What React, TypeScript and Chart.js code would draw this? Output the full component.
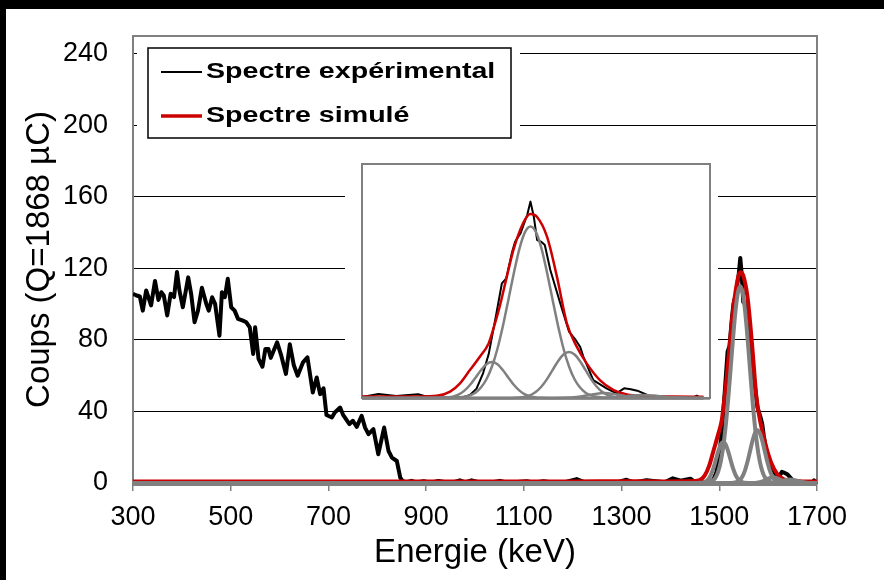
import React, { useEffect, useRef } from 'react';
import { Chart, registerables } from 'chart.js';

Chart.register(...registerables);

// ---------- data ----------
const xTickValues = [300, 500, 700, 900, 1100, 1300, 1500, 1700];
const yTickValues = [0, 40, 80, 120, 160, 200, 240];

const xTitle = 'Energie (keV)';
const yTitle = 'Coups (Q=1868 µC)';
const legendLabels = ['Spectre expérimental', 'Spectre simulé'];

const expEnergy = [300, 306, 314, 320, 327, 337, 345, 352, 358, 363, 370, 377, 384, 390, 395, 402, 413, 419, 426, 433, 441, 450, 455, 462, 468, 477, 482, 488, 494, 501, 508, 515, 525, 532, 539, 546, 550, 557, 565, 571, 577, 582, 595, 603, 613, 621, 629, 637, 648, 657, 668, 676, 683, 690, 696, 707, 713, 724, 730, 743, 750, 758, 768, 775, 782, 792, 802, 814, 823, 830, 840, 847, 852, 860, 870, 880, 895, 910, 925, 940, 955, 969, 980, 993, 1010, 1030, 1051, 1065, 1080, 1106, 1120, 1140, 1160, 1180, 1208, 1225, 1250, 1275, 1290, 1310, 1325, 1351, 1370, 1388, 1405, 1421, 1441, 1449, 1461, 1473, 1482, 1488, 1494, 1500, 1505, 1512, 1517, 1521, 1526, 1529, 1534, 1540, 1543, 1546, 1549, 1553, 1556, 1561, 1570, 1578, 1584, 1588, 1591, 1600, 1612, 1621, 1628, 1634, 1640, 1649, 1655, 1670, 1691, 1694, 1697, 1700];
const expCounts = [105.8, 105, 104.3, 96.4, 107.7, 99.3, 113, 102.4, 106.7, 104.9, 93.7, 105.8, 104, 118, 107.7, 98.3, 115, 105.8, 89.9, 96.4, 109.2, 100.2, 96.4, 103.9, 100.2, 82.4, 106.7, 103.9, 114.2, 98.3, 96.4, 91.8, 90.8, 89.9, 87.1, 72.2, 87.1, 69.4, 65, 75, 75, 70, 78.7, 71.7, 61, 77.6, 66, 60, 67.5, 70.3, 50.6, 59, 49.7, 53, 38, 36.6, 39.4, 42.2, 38.1, 32.9, 34.8, 31.4, 37.6, 31, 27.3, 30.1, 16.1, 31, 17.9, 14.2, 12.3, 3, 1, 0.5, 1.2, 0.3, 1.0, 0.2, 1.1, 0.4, 0.3, 1.5, 0.3, 1.5, 0.3, 0.2, 1.2, 0.3, 0.4, 1.0, 0.2, 1.0, 0.3, 0.2, 2.2, 0.3, 0.2, 0.3, 0.3, 1.8, 0.3, 1.6, 1.0, 0.4, 2.6, 1.3, 2.4, 0.8, 0.4, 0.4, 0.5, 2, 6, 16, 28, 54, 73.5, 76.7, 92.7, 100.2, 105.6, 117.3, 125.9, 116.2, 101.3, 100, 98.1, 82.1, 60.7, 42.5, 37.2, 32.9, 26.5, 11.5, 6.2, 3, 6.2, 5.6, 4.7, 1.9, 0.2, 0.4, 0.4, 1.5, 0.3, 0.5];

const simEnergy = [300, 600, 900, 1200, 1300, 1388, 1440, 1458, 1470, 1479, 1488, 1497, 1505, 1509, 1515, 1521.5, 1527.5, 1533.6, 1539.7, 1542.7, 1548.8, 1558, 1567, 1576, 1585, 1594, 1606, 1618.5, 1630.6, 1645.7, 1670, 1700];
const simCounts = [0.9, 0.9, 0.9, 0.9, 1.0, 0.9, 1.0, 1.4, 4.1, 9.4, 17.9, 26.5, 35, 43.6, 58.5, 77.8, 94.9, 107.7, 116.2, 117.9, 116.2, 103.4, 77.8, 47.9, 32.9, 22.2, 11.5, 5.1, 2.2, 1.2, 0.9, 0.8];

const comp1Energy = [300, 1455, 1463, 1468, 1473, 1478, 1483, 1488, 1493, 1498, 1503, 1508, 1513, 1518, 1523, 1528, 1533, 1538, 1543, 1548, 1553, 1560, 1700];
const comp1Counts = [0, 0, 0.1, 0.4, 1.0, 2.3, 4.7, 8.3, 13.0, 17.8, 21.6, 23, 21.6, 17.8, 13.0, 8.3, 4.7, 2.3, 1.0, 0.4, 0.1, 0, 0];

const comp2Energy = [300, 1465, 1473, 1478, 1483, 1488, 1493, 1498, 1503, 1508, 1513, 1518, 1523, 1528, 1533, 1538, 1543, 1548, 1553, 1558, 1563, 1568, 1573, 1578, 1583, 1588, 1593, 1598, 1603, 1608, 1613, 1620, 1700];
const comp2Counts = [0, 0, 0.1, 0.3, 0.75, 1.7, 3.4, 6.7, 12.0, 20.2, 31.6, 46.3, 63.2, 80.5, 95.8, 106.3, 110, 106.3, 95.8, 80.5, 63.2, 46.3, 31.6, 20.2, 12.0, 6.7, 3.4, 1.7, 0.75, 0.3, 0.1, 0, 0];

const comp3Energy = [300, 1525, 1533, 1538, 1543, 1548, 1553, 1558, 1563, 1568, 1573, 1578, 1583, 1588, 1593, 1598, 1603, 1608, 1613, 1618, 1623, 1630, 1700];
const comp3Counts = [0, 0, 0.3, 0.8, 1.9, 4.0, 7.4, 12.1, 17.9, 23.6, 27.9, 29.5, 27.9, 23.6, 17.9, 12.1, 7.4, 4.0, 1.9, 0.8, 0.3, 0, 0];

const comp4Energy = [300, 1565, 1580, 1590, 1600, 1610, 1620, 1630, 1640, 1655, 1700];
const comp4Counts = [0, 0, 0.3, 1.1, 2.4, 3.2, 2.4, 1.1, 0.3, 0, 0];

const comp5Energy = [300, 1600, 1615, 1625, 1635, 1645, 1655, 1665, 1675, 1690, 1700];
const comp5Counts = [0, 0, 0.3, 0.8, 1.6, 2.0, 1.6, 0.8, 0.3, 0, 0];

const componentEnergies = [comp1Energy, comp2Energy, comp3Energy, comp4Energy, comp5Energy];
const componentCounts = [comp1Counts, comp2Counts, comp3Counts, comp4Counts, comp5Counts];

// ---------- helpers ----------
const FONT = '"Liberation Sans", Arial, Helvetica, sans-serif';
const RED = '#cc0000';
const GRAY = '#808080';

const pts = (xs: number[], ys: number[]) => xs.map((x, i) => ({ x, y: ys[i] }));

function buildDatasets(w: { exp: number; sim: number; comp: number }) {
  const clip = { left: 0, top: 0, right: 3, bottom: 4 };
  const comps = componentEnergies.map((e, i) => ({
    data: pts(e, componentCounts[i]),
    borderColor: GRAY,
    borderWidth: w.comp,
    pointRadius: 0,
    fill: false,
    clip,
    cubicInterpolationMode: 'monotone' as const,
    order: 0,
  }));
  return [
    ...comps,
    {
      data: pts(simEnergy, simCounts),
      borderColor: RED,
      borderWidth: w.sim,
      pointRadius: 0,
      fill: false,
      clip,
      cubicInterpolationMode: 'monotone' as const,
      order: 1,
    },
    {
      data: pts(expEnergy, expCounts),
      borderColor: '#000',
      borderWidth: w.exp,
      pointRadius: 0,
      fill: false,
      clip,
      tension: 0,
      borderJoinStyle: 'round' as const,
      order: 2,
    },
  ];
}

const framePlugin = (color: string, width: number) => ({
  id: 'frame',
  beforeDatasetsDraw(chart: any) {
    const { ctx, chartArea: a } = chart;
    ctx.save();
    ctx.strokeStyle = color;
    ctx.lineWidth = width;
    ctx.strokeRect(a.left, a.top, a.right - a.left, a.bottom - a.top);
    ctx.restore();
  },
});

// thick grey base line (component baselines + axis) over the data, as in the original
const baseLinePlugin = (width: number, offset: number) => ({
  id: 'baseLine',
  afterDatasetsDraw(chart: any) {
    const { ctx, chartArea: a } = chart;
    ctx.save();
    ctx.strokeStyle = GRAY;
    ctx.lineWidth = width;
    ctx.beginPath();
    ctx.moveTo(a.left, a.bottom + offset);
    ctx.lineTo(a.right, a.bottom + offset);
    ctx.stroke();
    ctx.restore();
  },
});

const whiteBg = {
  id: 'whiteBg',
  beforeDraw(chart: any) {
    const { ctx, width, height } = chart;
    ctx.save();
    ctx.fillStyle = '#fff';
    ctx.fillRect(0, 0, width, height);
    ctx.restore();
  },
};

function drawStretched(ctx: CanvasRenderingContext2D, text: string, x: number, y: number, sx: number) {
  ctx.save();
  ctx.translate(x, y);
  ctx.scale(sx, 1);
  ctx.fillText(text, 0, 0);
  ctx.restore();
}

const legendPlugin = {
  id: 'legendBox',
  afterDraw(chart: any) {
    const ctx: CanvasRenderingContext2D = chart.ctx;
    ctx.save();
    ctx.fillStyle = '#fff';
    ctx.fillRect(131, 31, 383, 106);
    ctx.strokeStyle = '#000';
    ctx.lineWidth = 1.5;
    ctx.strokeRect(142, 39, 363, 90);
    ctx.beginPath();
    ctx.moveTo(155, 63);
    ctx.lineTo(196, 63);
    ctx.strokeStyle = '#000';
    ctx.lineWidth = 2;
    ctx.stroke();
    ctx.beginPath();
    ctx.moveTo(155, 107);
    ctx.lineTo(196, 107);
    ctx.strokeStyle = RED;
    ctx.lineWidth = 3.5;
    ctx.stroke();
    ctx.fillStyle = '#000';
    ctx.font = `bold 22px ${FONT}`;
    ctx.textBaseline = 'alphabetic';
    ctx.textAlign = 'left';
    drawStretched(ctx, legendLabels[0], 200, 69, 1.3);
    drawStretched(ctx, legendLabels[1], 200, 113, 1.3);
    ctx.restore();
  },
};

export default function App() {
  const mainRef = useRef<HTMLCanvasElement>(null);
  const insetRef = useRef<HTMLCanvasElement>(null);

  useEffect(() => {
    if (!mainRef.current || !insetRef.current) return;
    const main = new Chart(mainRef.current, {
      type: 'line',
      data: { datasets: buildDatasets({ exp: 4, sim: 4, comp: 4 }) as any },
      options: {
        animation: false,
        responsive: false,
        maintainAspectRatio: false,
        events: [],
        layout: { padding: { left: 0, top: 27, right: 67, bottom: 0 } },
        plugins: { legend: { display: false }, tooltip: { enabled: false } },
        scales: {
          x: {
            type: 'linear',
            min: 300,
            max: 1700,
            afterBuildTicks: (s: any) => {
              s.ticks = xTickValues.map((v) => ({ value: v }));
            },
            afterFit: (s: any) => {
              s.height = 97;
              s.paddingLeft = 0;
              s.paddingRight = 0;
            },
            ticks: {
              autoSkip: false,
              maxRotation: 0,
              color: '#000',
              padding: 10,
              font: { family: FONT, size: 27 },
              callback: (v: any) => String(v),
            },
            grid: { drawOnChartArea: false, drawTicks: true, tickLength: 8, color: GRAY, lineWidth: 1.5 },
            border: { display: true, color: GRAY, width: 2 },
            title: {
              display: true,
              text: xTitle,
              color: '#000',
              font: { family: FONT, size: 33 },
              padding: { top: 0, bottom: 7 },
            },
          },
          y: {
            type: 'linear',
            min: 0,
            max: 250,
            afterBuildTicks: (s: any) => {
              s.ticks = yTickValues.map((v) => ({ value: v }));
            },
            afterFit: (s: any) => {
              s.width = 127;
              s.paddingTop = 0;
              s.paddingBottom = 0;
            },
            ticks: {
              color: '#000',
              padding: 25,
              font: { family: FONT, size: 27 },
              callback: (v: any) => String(v),
            },
            grid: {
              drawTicks: false,
              color: (c: any) => (c.tick && c.tick.value === 0 ? 'rgba(0,0,0,0)' : '#000'),
              lineWidth: 1,
            },
            border: { display: true, color: GRAY, width: 2 },
            title: {
              display: true,
              text: yTitle,
              color: '#000',
              font: { family: FONT, size: 33 },
              padding: { top: 14, bottom: 0 },
            },
          },
        },
      },
      plugins: [framePlugin(GRAY, 2), baseLinePlugin(4, 1), legendPlugin],
    });

    const inset = new Chart(insetRef.current, {
      type: 'line',
      data: { datasets: buildDatasets({ exp: 2, sim: 2.5, comp: 2.5 }) as any },
      options: {
        animation: false,
        responsive: false,
        maintainAspectRatio: false,
        events: [],
        layout: { padding: { left: 17, top: 14, right: 8, bottom: 10 } },
        plugins: { legend: { display: false }, tooltip: { enabled: false } },
        scales: {
          x: { type: 'linear', min: 1390, max: 1706, display: false },
          y: { type: 'linear', min: 0, max: 150, display: false },
        },
      },
      plugins: [whiteBg, framePlugin(GRAY, 2), baseLinePlugin(2.5, 0.5)],
    });

    return () => {
      main.destroy();
      inset.destroy();
    };
  }, []);

  return (
    <div style={{ position: 'fixed', left: 0, top: 0, width: 884, height: 580, background: '#000', overflow: 'hidden' }}>
      <div style={{ position: 'absolute', left: 6, top: 9, width: 878, height: 571, background: '#fff' }}>
        <canvas ref={mainRef} width={878} height={571} style={{ position: 'absolute', left: 0, top: 0, width: 878, height: 571 }} />
        <canvas ref={insetRef} width={373} height={258} style={{ position: 'absolute', left: 339, top: 141, width: 373, height: 258 }} />
      </div>
    </div>
  );
}
